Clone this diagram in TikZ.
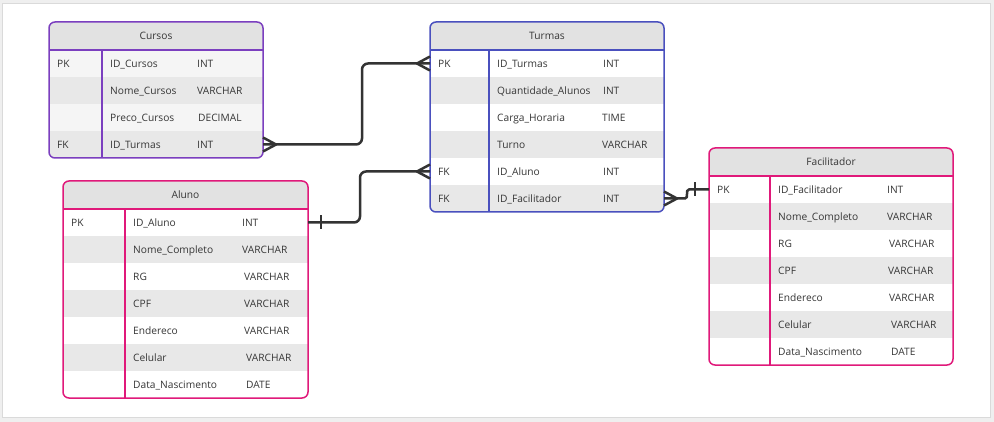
\documentclass[tikz,border=0pt]{standalone}
\usepackage{fontspec}
\setmainfont{Open Sans}
\usetikzlibrary{calc}
\definecolor{cursoscol}{HTML}{7B3FBF}
\definecolor{turmascol}{HTML}{4A50BE}
\definecolor{pinkcol}{HTML}{E0197A}
\definecolor{txtcol}{HTML}{363636}
\definecolor{hdrcol}{HTML}{E2E2E2}
\definecolor{hdrdark}{HTML}{DCDCDC}
\definecolor{rowgray}{HTML}{E8E8E8}
\definecolor{rowlight}{HTML}{F5F5F5}
\definecolor{conncol}{HTML}{333333}
\definecolor{outerbg}{HTML}{EFEFEF}
\definecolor{panelline}{HTML}{DADADA}
\tikzset{
  txt/.style={inner sep=0pt, font=\fontsize{10.2}{12}\selectfont, text=txtcol},
  rowcell/.style={inner sep=0pt, outer sep=0pt, draw=none},
  tblborder/.style={line width=1.5pt},
  conn/.style={draw=conncol, line width=2.5pt, rounded corners=6pt},
  foot/.style={draw=conncol, line width=2.5pt, line join=round},
}
% #1 name, #2 x1, #3 y1, #4 x2, #5 divider x, #6 colour, #7 title, #8 rows, #9 y2
\newcommand{\ertab}[9]{%
  \begin{scope}
    \clip[rounded corners=6pt] (#2,#3) rectangle (#4,#9);
    \fill[hdrcol] (#2,#3) rectangle (#4,#3+28);
    \foreach \k/\n/\t/\tx/\f [count=\i] in {#8} {
      \fill[\f] (#2,#3+1+27*\i) rectangle (#4,#3+28+27*\i);
    }
  \end{scope}
  \node[txt, anchor=base] (#1-title) at ({(#2+#4)/2},#3+17.6) {#7};
  \foreach \k/\n/\t/\tx/\f [count=\i] in {#8} {
    \node[rowcell, minimum width={#4-#2}, minimum height=27pt] (#1-\i) at ({(#2+#4)/2},#3+14.5+27*\i) {};
    \node[txt, anchor=base west] (#1-\i-k) at (#2+8,#3+18.1+27*\i) {\k};
    \node[txt, anchor=base west] (#1-\i-n) at (#5+8,#3+18.1+27*\i) {\n};
    \node[txt, anchor=base west] (#1-\i-t) at (\tx,#3+18.1+27*\i) {\t};
  }
  \draw[tblborder, draw=#6, rounded corners=6pt] (#2,#3) rectangle (#4,#9);
  \draw[tblborder, draw=#6] (#2,#3+28) -- (#4,#3+28);
  \draw[tblborder, draw=#6] (#5,#3+28) -- (#5,#9);
}
\begin{document}
\begin{tikzpicture}[x=1pt,y=-1pt]
\useasboundingbox (0,0) rectangle (994,422);
\fill[outerbg] (0,0) rectangle (994,422);
\fill[white] (2,3) rectangle (990,417);
\draw[panelline, line width=0.8pt] (2,3) rectangle (990,417);

\ertab{cursos}{49}{22}{263}{102}{cursoscol}{Cursos}{%
  PK/ID\_Cursos/INT/197/rowlight,
  {}/Nome\_Cursos/VARCHAR/197/rowgray,
  {}/Preco\_Cursos/DECIMAL/198/rowlight,
  FK/ID\_Turmas/INT/197/rowgray}{158}

\ertab{turmas}{430}{22}{664}{489}{turmascol}{Turmas}{%
  PK/ID\_Turmas/INT/603/white,
  {}/Quantidade\_Alunos/INT/603/rowgray,
  {}/Carga\_Horaria/TIME/602/white,
  {}/Turno/VARCHAR/602/rowgray,
  FK/ID\_Aluno/INT/603/white,
  FK/ID\_Facilitador/INT/603/rowgray}{212}

\ertab{aluno}{63}{181}{308}{125}{pinkcol}{Aluno}{%
  PK/ID\_Aluno/INT/242/white,
  {}/Nome\_Completo/VARCHAR/242/rowgray,
  {}/RG/VARCHAR/244/white,
  {}/CPF/VARCHAR/244/rowgray,
  {}/Endereco/VARCHAR/244/white,
  {}/Celular/VARCHAR/246/rowgray,
  {}/Data\_Nascimento/DATE/246/white}{398}

\ertab{facil}{709}{148}{953}{770}{pinkcol}{Facilitador}{%
  PK/ID\_Facilitador/INT/887/white,
  {}/Nome\_Completo/VARCHAR/887/rowgray,
  {}/RG/VARCHAR/889/white,
  {}/CPF/VARCHAR/888/rowgray,
  {}/Endereco/VARCHAR/889/white,
  {}/Celular/VARCHAR/891/rowgray,
  {}/Data\_Nascimento/DATE/891/white}{365}

% Cursos.ID_Turmas >--< Turmas.ID_Turmas
\draw[conn] (cursos-4.east) -- ++(99,0) |- (turmas-1.west);
\draw[foot] ($(cursos-4.east)+(0,-7)$) -- ($(cursos-4.east)+(13,0)$) -- ($(cursos-4.east)+(0,7)$);
\draw[foot] ($(turmas-1.west)+(0,-7)$) -- ($(turmas-1.west)+(-13,0)$) -- ($(turmas-1.west)+(0,7)$);

% Aluno.ID_Aluno |--< Turmas.ID_Aluno
\draw[conn] (aluno-1.east) -- ++(52,0) |- (turmas-5.west);
\draw[foot] ($(aluno-1.east)+(13,-7)$) -- ($(aluno-1.east)+(13,7)$);
\draw[foot] ($(turmas-5.west)+(0,-7)$) -- ($(turmas-5.west)+(-13,0)$) -- ($(turmas-5.west)+(0,7)$);

% Turmas.ID_Facilitador >--| Facilitador.ID_Facilitador
\coordinate (s1) at ($(turmas-6.east)+(21,0)$);
\coordinate (s2) at ($(facil-1.west)+(-20,0)$);
\draw[conn, rounded corners=0pt] (turmas-6.east) -- (s1) .. controls ($(s1)+(4,0)$) and ($(s2)+(-4,0)$) .. (s2) -- (facil-1.west);
\draw[foot] ($(turmas-6.east)+(0,-7)$) -- ($(turmas-6.east)+(13,0)$) -- ($(turmas-6.east)+(0,7)$);
\draw[foot] ($(facil-1.west)+(-14,-7)$) -- ($(facil-1.west)+(-14,7)$);
\end{tikzpicture}
\end{document}
